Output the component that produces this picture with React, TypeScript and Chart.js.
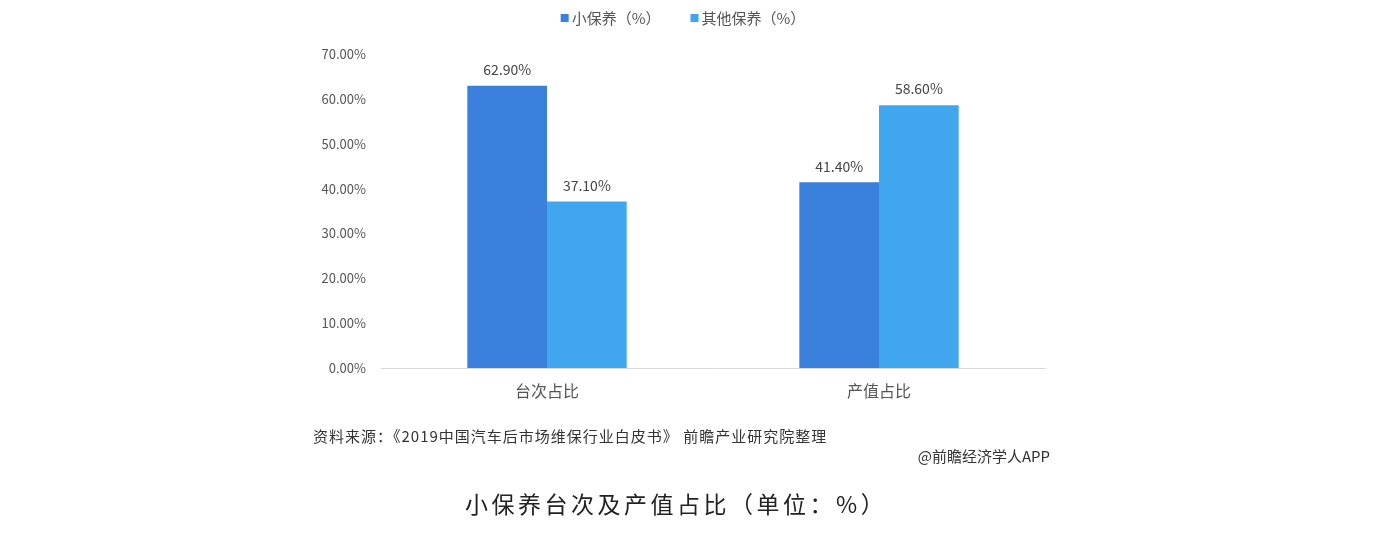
import React, { useEffect, useRef } from "react";
import { Chart, registerables } from "chart.js";

Chart.register(...registerables);

const categories = ["台次占比", "产值占比"];
const seriesNames = ["小保养（%）", "其他保养（%）"];
const smallMaintenance = [62.9, 41.4];
const otherMaintenance = [37.1, 58.6];
const yTicks = [0, 10, 20, 30, 40, 50, 60, 70];
const sourceText = "资料来源：《2019中国汽车后市场维保行业白皮书》 前瞻产业研究院整理";
const creditText = "@前瞻经济学人APP";
const titleText = "小保养台次及产值占比（单位：%）";

const FONT = "'Noto Sans CJK SC', 'Noto Sans', sans-serif";

const valueLabels = {
  id: "valueLabels",
  afterDatasetsDraw(chart: any) {
    const ctx = chart.ctx;
    ctx.save();
    ctx.font = `14px ${FONT}`;
    ctx.fillStyle = "#444";
    ctx.textAlign = "center";
    ctx.textBaseline = "bottom";
    chart.data.datasets.forEach((ds: any, i: number) => {
      const meta = chart.getDatasetMeta(i);
      meta.data.forEach((bar: any, j: number) => {
        ctx.fillText(ds.data[j].toFixed(2) + "%", bar.x, bar.y - 9);
      });
    });
    ctx.restore();
  },
};

const topLegend = {
  id: "topLegend",
  afterDraw(chart: any) {
    const ctx = chart.ctx;
    ctx.save();
    ctx.font = `15px ${FONT}`;
    ctx.textBaseline = "middle";
    ctx.textAlign = "left";
    const box = 8;
    const boxGap = 3;
    const itemGap = 30;
    const items = chart.data.datasets.map((ds: any) => ({
      label: ds.label,
      color: ds.backgroundColor,
      w: box + boxGap + ctx.measureText(ds.label).width,
    }));
    const total = items.reduce((a: number, it: any) => a + it.w, 0) + itemGap * (items.length - 1);
    let x = 683 - total / 2;
    const y = 18;
    items.forEach((it: any) => {
      ctx.fillStyle = it.color;
      ctx.fillRect(x, y - box / 2, box, box);
      ctx.fillStyle = "#555";
      ctx.fillText(it.label, x + box + boxGap, y);
      x += it.w + itemGap;
    });
    ctx.restore();
  },
};

export default function App() {
  const ref = useRef<HTMLCanvasElement>(null);
  useEffect(() => {
    document.body.style.margin = "0";
    const chart = new Chart(ref.current!, {
      type: "bar",
      data: {
        labels: categories,
        datasets: [
          {
            label: seriesNames[0],
            data: smallMaintenance,
            backgroundColor: "#3b80dc",
            categoryPercentage: 0.48,
            barPercentage: 1,
          },
          {
            label: seriesNames[1],
            data: otherMaintenance,
            backgroundColor: "#40a6ee",
            categoryPercentage: 0.48,
            barPercentage: 1,
          },
        ],
      },
      options: {
        animation: false,
        responsive: false,
        layout: { padding: { left: 303, right: 339, top: 54, bottom: 144 } },
        plugins: {
          legend: { display: false },
          tooltip: { enabled: false },
        },
        scales: {
          x: {
            grid: { display: false, drawTicks: false },
            border: { display: true, color: "#d9d9d9" },
            ticks: { font: { family: FONT, size: 16 }, color: "#555", padding: 13 },
            afterFit: (s: any) => {
              s.height = 40;
            },
          },
          y: {
            min: 0,
            max: 70,
            grid: { display: false, drawTicks: false },
            border: { display: false },
            afterBuildTicks: (s: any) => {
              s.ticks = yTicks.map((v) => ({ value: v }));
            },
            ticks: {
              font: { family: FONT, size: 13 },
              color: "#555",
              padding: 15,
              callback: (v: any) => Number(v).toFixed(2) + "%",
            },
            afterFit: (s: any) => {
              s.width = 78;
            },
          },
        },
      },
      plugins: [valueLabels, topLegend],
    });
    return () => chart.destroy();
  }, []);

  return (
    <div style={{ position: "fixed", left: 0, top: 0, width: 1384, height: 552, background: "#fff" }}>
      <canvas ref={ref} width={1384} height={552} style={{ display: "block" }} />
      <div
        style={{
          position: "absolute",
          left: 313,
          top: 425,
          fontFamily: FONT,
          fontSize: 15,
          letterSpacing: 1,
          color: "#333",
          whiteSpace: "nowrap",
        }}
      >
        {sourceText}
      </div>
      <div
        style={{
          position: "absolute",
          right: 1384 - 1050,
          top: 445,
          fontFamily: FONT,
          fontSize: 15,
          color: "#333",
          whiteSpace: "nowrap",
        }}
      >
        {creditText}
      </div>
      <div
        style={{
          position: "absolute",
          left: 465,
          top: 486,
          fontFamily: FONT,
          fontSize: 23,
          letterSpacing: 3.5,
          color: "#222",
          whiteSpace: "nowrap",
        }}
      >
        {titleText}
      </div>
    </div>
  );
}
